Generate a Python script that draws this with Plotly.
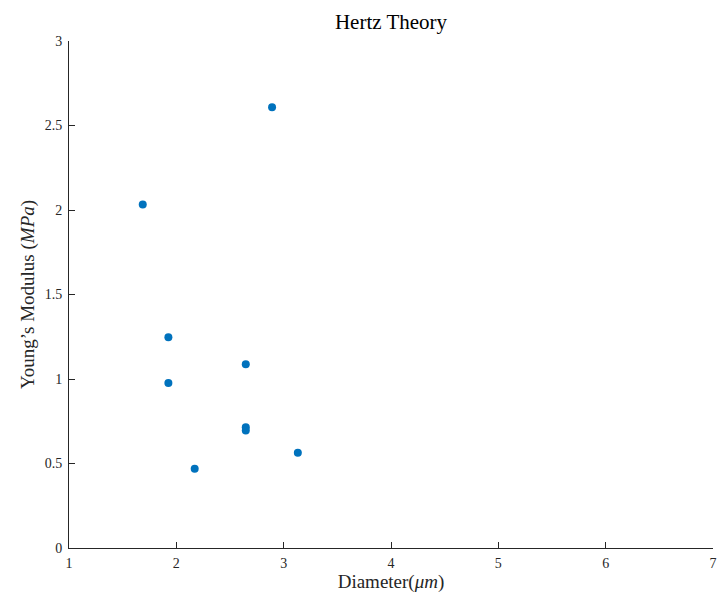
import plotly.graph_objects as go

# Hertz-model fit results: bead diameter vs. Young's modulus
diameter_um = [1.687, 1.926, 1.926, 2.171, 2.647, 2.647, 2.647, 2.892, 3.132]
modulus_mpa = [2.033, 1.247, 0.977, 0.469, 1.087, 0.715, 0.695, 2.608, 0.563]

x_ticks = [1, 2, 3, 4, 5, 6, 7]
y_ticks = [0, 0.5, 1, 1.5, 2, 2.5, 3]
y_tick_text = ["0", "0.5", "1", "1.5", "2", "2.5", "3"]

FONT = "Liberation Serif, DejaVu Serif, serif"
AXIS_COLOR = "#262626"

fig = go.Figure(
    go.Scatter(
        x=diameter_um,
        y=modulus_mpa,
        mode="markers",
        marker=dict(color="#0072BD", size=8, line=dict(width=0)),
        showlegend=False,
    )
)

fig.update_layout(
    width=719,
    height=601,
    margin=dict(l=69, r=6, t=41, b=53, autoexpand=False),
    paper_bgcolor="white",
    plot_bgcolor="white",
    font=dict(family=FONT, color=AXIS_COLOR),
    title=dict(
        text="Hertz Theory",
        x=0.5,
        xanchor="center",
        xref="paper",
        y=1 - 22 / 601,
        yanchor="middle",
        font=dict(family=FONT, size=21, color="#000000"),
    ),
    xaxis=dict(
        range=[1, 7],
        tickvals=x_ticks,
        ticktext=[str(v) for v in x_ticks],
        automargin=False,
        showgrid=False,
        zeroline=False,
        showline=True,
        linecolor=AXIS_COLOR,
        linewidth=1,
        ticks="inside",
        ticklen=6,
        tickcolor=AXIS_COLOR,
        ticklabelstandoff=2,
        tickfont=dict(family=FONT, size=14, color=AXIS_COLOR),
        title=dict(
            text="Diameter(<i>μm</i>)",
            font=dict(family=FONT, size=19, color=AXIS_COLOR),
            standoff=4,
        ),
    ),
    yaxis=dict(
        range=[0, 3],
        tickvals=y_ticks,
        ticktext=y_tick_text,
        automargin=False,
        showgrid=False,
        zeroline=False,
        showline=True,
        linecolor=AXIS_COLOR,
        linewidth=1,
        ticks="inside",
        ticklen=6,
        tickcolor=AXIS_COLOR,
        ticklabelstandoff=3,
        tickfont=dict(family=FONT, size=14, color=AXIS_COLOR),
        title=dict(
            text="Young’s Modulus (<i>MPa</i>)",
            font=dict(family=FONT, size=19, color=AXIS_COLOR),
            standoff=5,
        ),
    ),
)

fig.write_html("out.html")
